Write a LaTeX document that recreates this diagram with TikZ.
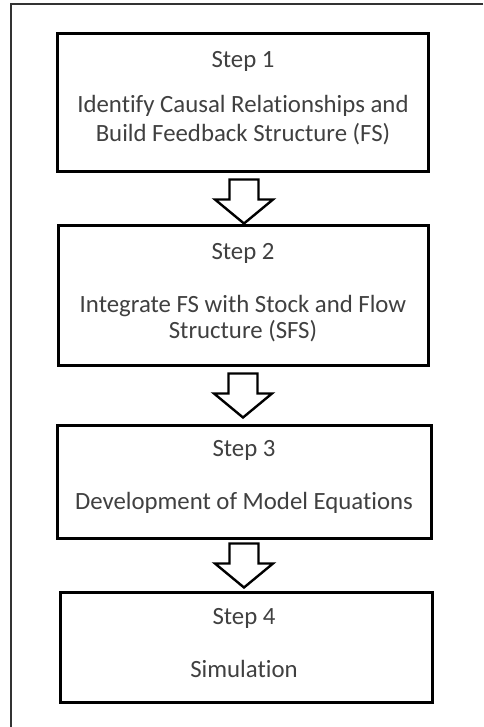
\documentclass[tikz,border=0pt]{standalone}
\usepackage{fontspec}
\setmainfont[Ligatures=NoCommon]{Carlito}
\usetikzlibrary{calc}
\definecolor{txt}{HTML}{404040}
\tikzset{
  stepbox/.style={draw=black, line width=3pt, fill=white, inner sep=0pt},
  steptext/.style={text=txt, font=\fontsize{24.8}{29}\selectfont, inner sep=0pt, anchor=center},
  frameline/.style={draw=black!80, line width=2pt},
  downarrow/.pic={
    \draw[line width=2.4pt, line join=miter, fill=white]
      (-14.5pt,0) -- (14.5pt,0) -- (14.5pt,-20pt) -- (29pt,-20pt)
      -- (0,-44pt) -- (-29pt,-20pt) -- (-14.5pt,-20pt) -- cycle;
  }
}
\begin{document}
\begin{tikzpicture}[x=1pt,y=-1pt]
\useasboundingbox (0,0) rectangle (483,727);

% outer frame (top and left edges)
\coordinate (ftl) at (11,4.5);
\coordinate (ftr) at (483,4.5);
\coordinate (fbl) at (11,727);
\draw[frameline] (ftr) -- (ftl) -- (fbl);

% step boxes
\node[stepbox, minimum width=371pt, minimum height=138pt] (b1) at (242.5,103) {};
\node[stepbox, minimum width=370pt, minimum height=140pt] (b2) at (243,295) {};
\node[stepbox, minimum width=374pt, minimum height=113pt] (b3) at (244.5,481.5) {};
\node[stepbox, minimum width=372pt, minimum height=110pt] (b4) at (246,647) {};

% box texts
\node[steptext] (s1) at (243,61) {Step 1};
\node[steptext] (t1a) at (243,106) {Identify Causal Relationships and};
\node[steptext] (t1b) at (243,134) {Build Feedback Structure (FS)};

\node[steptext] (s2) at (243,253) {Step 2};
\node[steptext] (t2a) at (243,306) {Integrate FS with Stock and Flow};
\node[steptext] (t2b) at (243,331) {Structure (SFS)};

\node[steptext] (s3) at (244,450) {Step 3};
\node[steptext] (t3) at (244,503) {Development of Model Equations};

\node[steptext] (s4) at (244,618) {Step 4};
\node[steptext] (t4) at (244,669) {Simulation};

% block arrows between boxes
\path (b1.south -| 244,0) ++(0,6) pic{downarrow};
\path (b2.south -| 243,0) ++(0,7) pic{downarrow};
\path (b3.south -| 244,0) ++(0,4) pic{downarrow};
\end{tikzpicture}
\end{document}
